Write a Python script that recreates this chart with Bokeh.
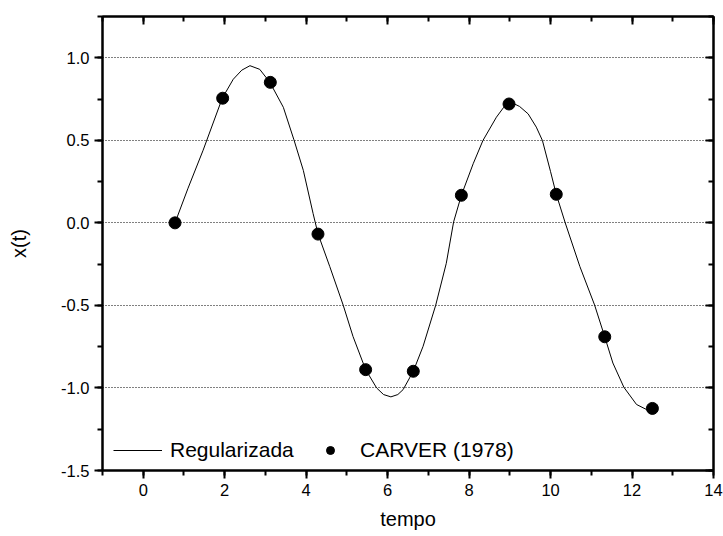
from bokeh.plotting import figure
from bokeh.models import (Range1d, SingleIntervalTicker, LinearAxis, Legend, LegendItem,
                          PrintfTickFormatter, CustomJSTickFormatter)
from bokeh.embed import file_html
from bokeh.resources import INLINE

# CARVER (1978) points
t_pts = [0.78, 1.95, 3.12, 4.29, 5.46, 6.63, 7.81, 8.98, 10.14, 11.33, 12.50]
x_pts = [0.0, 0.755, 0.851, -0.068, -0.889, -0.899, 0.167, 0.72, 0.173, -0.69, -1.124]

# Regularizada curve
t_curve = [0.78, 1.10, 1.47, 1.94, 2.21, 2.42, 2.62, 2.86, 3.11, 3.44, 3.70, 3.93, 4.17,
           4.29, 4.58, 4.91, 5.15, 5.46, 5.73, 5.90, 6.08, 6.25, 6.38, 6.63, 6.87, 7.18,
           7.44, 7.62, 7.81, 8.10, 8.34, 8.67, 8.85, 8.98, 9.10, 9.24, 9.45, 9.65, 9.80,
           10.00, 10.14, 10.36, 10.72, 11.08, 11.33, 11.53, 11.80, 12.11, 12.35, 12.50]
x_curve = [0.0, 0.21, 0.44, 0.755, 0.87, 0.925, 0.952, 0.93, 0.851, 0.70, 0.503, 0.318,
           0.057, -0.066, -0.265, -0.499, -0.688, -0.889, -1.0, -1.04, -1.054, -1.04,
           -1.01, -0.899, -0.748, -0.499, -0.245, 0.006, 0.167, 0.358, 0.499, 0.64, 0.70,
           0.72, 0.722, 0.705, 0.66, 0.58, 0.499, 0.31, 0.173, 0.0, -0.265, -0.497,
           -0.69, -0.849, -0.996, -1.10, -1.13, -1.124]

x_label = "tempo"
y_label = "x(t)"
legend_line = "Regularizada"
legend_pts = "CARVER (1978)"

FONT = "Liberation Sans"

p = figure(width=723, height=536, output_backend="svg", toolbar_location=None,
           x_range=Range1d(-1, 14), y_range=Range1d(-1.5, 1.25),
           x_axis_location=None, y_axis_location=None,
           min_border_left=102, min_border_right=10, min_border_top=16,
           min_border_bottom=66)
p.background_fill_color = "white"
p.border_fill_color = "white"
p.outline_line_color = "black"
p.outline_line_width = 2

xt = SingleIntervalTicker(interval=2, num_minor_ticks=2)
yt = SingleIntervalTicker(interval=0.5, num_minor_ticks=2)


def style(ax, inward):
    ax.axis_line_width = 2
    ax.axis_line_color = "black"
    ax.major_tick_line_width = 2
    ax.minor_tick_line_width = 2
    ax.major_tick_line_color = "black"
    ax.minor_tick_line_color = "black"
    if inward:
        ax.major_tick_in = 8
        ax.major_tick_out = 0
        ax.minor_tick_in = 5
        ax.minor_tick_out = 0
    else:
        ax.major_tick_in = 0
        ax.major_tick_out = 8
        ax.minor_tick_in = 0
        ax.minor_tick_out = 5
    ax.major_label_text_font = FONT
    ax.major_label_text_font_size = "16.5px"
    ax.major_label_text_color = "black"
    ax.axis_label_text_font = FONT
    ax.axis_label_text_font_style = "normal"
    ax.axis_label_text_font_size = "20px"
    ax.axis_label_text_color = "black"


bottom = LinearAxis(ticker=xt, axis_label=x_label)
style(bottom, False)
bottom.major_label_standoff = 5
bottom.axis_label_standoff = 9
left = LinearAxis(ticker=yt, axis_label=y_label, formatter=PrintfTickFormatter(format="%.1f"))
style(left, False)
left.major_label_standoff = 5
left.axis_label_standoff = 28
top = LinearAxis(ticker=xt, formatter=CustomJSTickFormatter(code="return '';"))
style(top, True)
top.major_label_standoff = 0
right = LinearAxis(ticker=yt, formatter=CustomJSTickFormatter(code="return '';"))
style(right, True)
right.major_label_standoff = 0

p.add_layout(bottom, "below")
p.add_layout(left, "left")
p.add_layout(top, "above")
p.add_layout(right, "right")

p.xgrid.visible = False
p.ygrid.ticker = yt
p.ygrid.grid_line_color = "black"
p.ygrid.grid_line_dash = "1 2"
p.ygrid.grid_line_width = 1

line = p.line(t_curve, x_curve, line_color="black", line_width=1)
pts = p.scatter(t_pts, x_pts, marker="circle", size=12, fill_color="black", line_color="black")

common = dict(orientation="horizontal", padding=0, margin=0, border_line_color=None,
              background_fill_alpha=0, label_text_font=FONT, label_text_font_size="21px",
              label_text_color="black", glyph_height=20)
leg1 = Legend(items=[LegendItem(label=legend_line, renderers=[line])], location=(11, 8),
              glyph_width=49, label_standoff=8, **common)
leg2 = Legend(items=[LegendItem(label=legend_pts, renderers=[pts])], location=(218, 8),
              glyph_width=20, label_standoff=20, **common)
p.add_layout(leg1)
p.add_layout(leg2)

open("out.html", "w").write(file_html(p, INLINE))
